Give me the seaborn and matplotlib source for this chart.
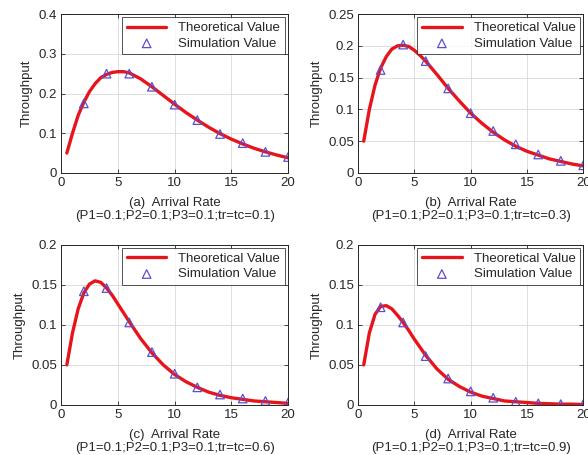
import numpy as np
import pandas as pd
import matplotlib
matplotlib.use("Agg")
import matplotlib.pyplot as plt
import seaborn as sns

# ---- data ----
x_theory = [0.5, 1, 1.5, 2, 2.5, 3, 3.5, 4, 4.5, 5, 5.5, 6, 7, 8, 9, 10,
            11, 12, 13, 14, 15, 16, 17, 18, 19, 20]
theory_a = [0.050, 0.100, 0.145, 0.178, 0.205, 0.225, 0.240, 0.248, 0.253, 0.255, 0.255, 0.252,
            0.237, 0.217, 0.195, 0.173, 0.152, 0.133, 0.115, 0.099, 0.085, 0.073, 0.062, 0.053, 0.045, 0.038]
theory_b = [0.050, 0.100, 0.138, 0.165, 0.183, 0.195, 0.200, 0.201, 0.199, 0.193, 0.185, 0.176,
            0.155, 0.133, 0.113, 0.094, 0.078, 0.064, 0.052, 0.042, 0.034, 0.028, 0.022, 0.018, 0.014, 0.011]
theory_c = [0.050, 0.090, 0.120, 0.140, 0.151, 0.155, 0.153, 0.146, 0.137, 0.126, 0.115, 0.104,
            0.083, 0.065, 0.050, 0.038, 0.029, 0.022, 0.016, 0.012, 0.009, 0.007, 0.005, 0.004, 0.003, 0.002]
theory_d = [0.050, 0.090, 0.113, 0.123, 0.124, 0.120, 0.112, 0.103, 0.093, 0.082, 0.072, 0.062,
            0.045, 0.032, 0.023, 0.016, 0.011, 0.008, 0.005, 0.004, 0.003, 0.002, 0.0015, 0.001, 0.001, 0.0005]

x_sim = [2, 4, 6, 8, 10, 12, 14, 16, 18, 20]
sim_a = [0.175, 0.250, 0.250, 0.217, 0.172, 0.133, 0.098, 0.075, 0.053, 0.040]
sim_b = [0.162, 0.202, 0.176, 0.133, 0.094, 0.066, 0.045, 0.029, 0.019, 0.012]
sim_c = [0.142, 0.146, 0.103, 0.066, 0.039, 0.022, 0.013, 0.008, 0.005, 0.003]
sim_d = [0.122, 0.103, 0.061, 0.033, 0.017, 0.009, 0.004, 0.002, 0.001, 0.001]

panel_labels = ["(a)", "(b)", "(c)", "(d)"]
tr_values = ["0.1", "0.3", "0.6", "0.9"]
y_max = [0.4, 0.25, 0.2, 0.2]
y_ticks = [[0, 0.1, 0.2, 0.3, 0.4],
           [0, 0.05, 0.1, 0.15, 0.2, 0.25],
           [0, 0.05, 0.1, 0.15, 0.2],
           [0, 0.05, 0.1, 0.15, 0.2]]
y_ticklabels = [["0", "0.1", "0.2", "0.3", "0.4"],
                ["0", "0.05", "0.1", "0.15", "0.2", "0.25"],
                ["0", "0.05", "0.1", "0.15", "0.2"],
                ["0", "0.05", "0.1", "0.15", "0.2"]]
x_ticks = [0, 5, 10, 15, 20]

theories = [theory_a, theory_b, theory_c, theory_d]
sims = [sim_a, sim_b, sim_c, sim_d]

sns.set_style("white")
plt.rcParams["font.family"] = ["Liberation Sans", "DejaVu Sans"]

fig = plt.figure(figsize=(5.88, 4.55), dpi=100)
positions = [
    [0.104, 0.620, 0.386, 0.349],
    [0.609, 0.620, 0.383, 0.349],
    [0.104, 0.110, 0.386, 0.352],
    [0.609, 0.110, 0.383, 0.352],
]

for i in range(4):
    ax = fig.add_axes(positions[i])
    df_t = pd.DataFrame({"x": x_theory, "y": theories[i]})
    df_s = pd.DataFrame({"x": x_sim, "y": sims[i]})
    sns.lineplot(data=df_t, x="x", y="y", ax=ax, color="#e8141c", lw=2.4,
                 label="Theoretical Value", zorder=3)
    sns.scatterplot(data=df_s, x="x", y="y", ax=ax, marker="^", s=38,
                    facecolor="none", edgecolor="#5a4fd0", linewidth=0.9,
                    label="Simulation Value", zorder=4)
    ax.set_xlim(0, 20)
    ax.set_ylim(0, y_max[i])
    ax.set_xticks(x_ticks)
    ax.set_xticklabels([str(t) for t in x_ticks])
    ax.set_yticks(y_ticks[i])
    ax.set_yticklabels(y_ticklabels[i])
    ax.grid(True, color="#d9d9d9", lw=0.6)
    ax.set_axisbelow(True)
    for sp in ax.spines.values():
        sp.set_visible(True)
        sp.set_color("#262626")
        sp.set_linewidth(0.7)
    ax.tick_params(direction="in", length=3, width=0.6, labelsize=9.5,
                   colors="#262626", top=True, right=True, bottom=True, left=True,
                   pad=3)
    ax.set_ylabel("Throughput", fontsize=9.5, labelpad=4)
    ax.set_xlabel(f"{panel_labels[i]}  Arrival Rate\n(P1=0.1;P2=0.1;P3=0.1;tr=tc={tr_values[i]})",
                  fontsize=9.5, labelpad=6, linespacing=1.1)
    leg = ax.legend(loc="upper right", fontsize=9.5, frameon=True, fancybox=False,
                    edgecolor="#262626", borderaxespad=0.25, handlelength=3.0,
                    borderpad=0.35, labelspacing=0.25, handletextpad=0.9)
    leg.get_frame().set_linewidth(0.7)

fig.savefig("out.png", dpi=100)
